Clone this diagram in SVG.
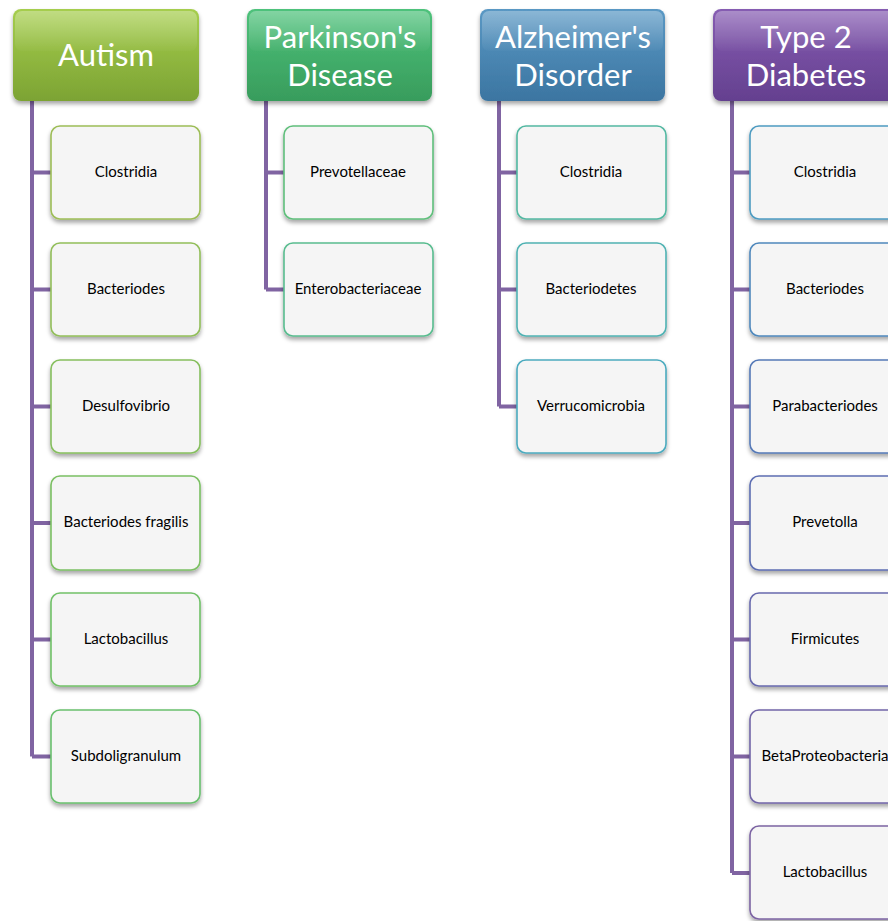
<svg xmlns="http://www.w3.org/2000/svg" width="888" height="921" viewBox="0 0 888 921">
<defs>
<filter id="sh" x="-10%" y="-10%" width="125%" height="130%">
<feDropShadow dx="0" dy="3" stdDeviation="2" flood-color="#000" flood-opacity="0.35"/>
</filter>
<linearGradient id="gA" x1="0" y1="0" x2="0" y2="1"><stop offset="0" stop-color="#a6ce4e"/><stop offset="1" stop-color="#7ca333"/></linearGradient>
<linearGradient id="gP" x1="0" y1="0" x2="0" y2="1"><stop offset="0" stop-color="#4ec27b"/><stop offset="1" stop-color="#389c5c"/></linearGradient>
<linearGradient id="gZ" x1="0" y1="0" x2="0" y2="1"><stop offset="0" stop-color="#5a98c4"/><stop offset="1" stop-color="#3b75a1"/></linearGradient>
<linearGradient id="gT" x1="0" y1="0" x2="0" y2="1"><stop offset="0" stop-color="#865cb2"/><stop offset="1" stop-color="#64408f"/></linearGradient>
<linearGradient id="gloss" x1="0" y1="0" x2="0" y2="1"><stop offset="0" stop-color="#fff" stop-opacity="0.3"/><stop offset="1" stop-color="#fff" stop-opacity="0.02"/></linearGradient>
</defs>
<style>
.hdr{stroke:none;filter:url(#sh)}
.ht{font-family:Lato,"Open Sans","Liberation Sans",sans-serif;font-size:31px;fill:#fff;text-anchor:middle}
.ch{fill:#f5f5f5;stroke-width:1.6;filter:url(#sh)}
.ct{font-family:Lato,"Open Sans","Liberation Sans",sans-serif;font-size:15px;fill:#000;text-anchor:middle}
.con{fill:none;stroke:#8064a2;stroke-width:4;stroke-linejoin:miter}
</style>
<g id="connectors">
<path class="con" d="M32,101 V756.5 M32,172.5 H51 M32,289.5 H51 M32,406.5 H51 M32,523 H51 M32,639.5 H51 M32,756.5 H51"/>
<path class="con" d="M266,101 V289.5 M266,172.5 H284 M266,289.5 H284"/>
<path class="con" d="M499,101 V406.5 M499,172.5 H517 M499,289.5 H517 M499,406.5 H517"/>
<path class="con" d="M732,101 V873 M732,172.5 H750 M732,289.5 H750 M732,406.5 H750 M732,523 H750 M732,639.5 H750 M732,756.5 H750 M732,873 H750"/>
</g>
<g id="autism">
<rect class="hdr" x="13" y="9" width="186" height="92" rx="8" fill="url(#gA)"/>
<rect x="15" y="11" width="182" height="40" rx="7" fill="url(#gloss)"/>
<text class="ht" x="106" y="66">Autism</text>
</g>
<g id="parkinsons">
<rect class="hdr" x="247" y="9" width="185" height="92" rx="8" fill="url(#gP)"/>
<rect x="249" y="11" width="181" height="40" rx="7" fill="url(#gloss)"/>
<text class="ht" x="340" y="48">Parkinson's</text>
<text class="ht" x="340" y="86">Disease</text>
</g>
<g id="alzheimers">
<rect class="hdr" x="480" y="9" width="185" height="92" rx="8" fill="url(#gZ)"/>
<rect x="482" y="11" width="181" height="40" rx="7" fill="url(#gloss)"/>
<text class="ht" x="573" y="48">Alzheimer's</text>
<text class="ht" x="573" y="86">Disorder</text>
</g>
<g id="type2">
<rect class="hdr" x="713" y="9" width="185" height="92" rx="8" fill="url(#gT)"/>
<rect x="715" y="11" width="181" height="40" rx="7" fill="url(#gloss)"/>
<text class="ht" x="806" y="48">Type 2</text>
<text class="ht" x="806" y="86">Diabetes</text>
</g>
<g id="a1"><rect class="ch" x="51" y="126" width="149" height="93" rx="9" stroke="#9dbd57"/><text class="ct" x="126" y="177">Clostridia</text></g>
<g id="a2"><rect class="ch" x="51" y="243" width="149" height="93" rx="9" stroke="#92be5a"/><text class="ct" x="126" y="294">Bacteriodes</text></g>
<g id="a3"><rect class="ch" x="51" y="360" width="149" height="93" rx="9" stroke="#86bf5e"/><text class="ct" x="126" y="411">Desulfovibrio</text></g>
<g id="a4"><rect class="ch" x="51" y="476" width="149" height="94" rx="9" stroke="#7bc063"/><text class="ct" x="126" y="527">Bacteriodes fragilis</text></g>
<g id="a5"><rect class="ch" x="51" y="593" width="149" height="93" rx="9" stroke="#71c168"/><text class="ct" x="126" y="644">Lactobacillus</text></g>
<g id="a6"><rect class="ch" x="51" y="710" width="149" height="93" rx="9" stroke="#69c06e"/><text class="ct" x="126" y="761">Subdoligranulum</text></g>
<g id="p1"><rect class="ch" x="284" y="126" width="149" height="93" rx="9" stroke="#60bf7c"/><text class="ct" x="358" y="177">Prevotellaceae</text></g>
<g id="p2"><rect class="ch" x="284" y="243" width="149" height="93" rx="9" stroke="#59bc8f"/><text class="ct" x="358" y="294">Enterobacteriaceae</text></g>
<g id="z1"><rect class="ch" x="517" y="126" width="149" height="93" rx="9" stroke="#53b8a2"/><text class="ct" x="591" y="177">Clostridia</text></g>
<g id="z2"><rect class="ch" x="517" y="243" width="149" height="93" rx="9" stroke="#50b2b3"/><text class="ct" x="591" y="294">Bacteriodetes</text></g>
<g id="z3"><rect class="ch" x="517" y="360" width="149" height="93" rx="9" stroke="#4cabbf"/><text class="ct" x="591" y="411">Verrucomicrobia</text></g>
<g id="t1"><rect class="ch" x="750" y="126" width="149" height="93" rx="9" stroke="#4d9bc1"/><text class="ct" x="825" y="177">Clostridia</text></g>
<g id="t2"><rect class="ch" x="750" y="243" width="149" height="93" rx="9" stroke="#4f88bc"/><text class="ct" x="825" y="294">Bacteriodes</text></g>
<g id="t3"><rect class="ch" x="750" y="360" width="149" height="93" rx="9" stroke="#5579b7"/><text class="ct" x="825" y="411">Parabacteriodes</text></g>
<g id="t4"><rect class="ch" x="750" y="476" width="149" height="94" rx="9" stroke="#5d6eb2"/><text class="ct" x="825" y="527">Prevetolla</text></g>
<g id="t5"><rect class="ch" x="750" y="593" width="149" height="93" rx="9" stroke="#6869ad"/><text class="ct" x="825" y="644">Firmicutes</text></g>
<g id="t6"><rect class="ch" x="750" y="710" width="149" height="93" rx="9" stroke="#7266a8"/><text class="ct" x="825" y="761">BetaProteobacteria</text></g>
<g id="t7"><rect class="ch" x="750" y="826" width="149" height="93" rx="9" stroke="#7c64a3"/><text class="ct" x="825" y="877">Lactobacillus</text></g>
</svg>
